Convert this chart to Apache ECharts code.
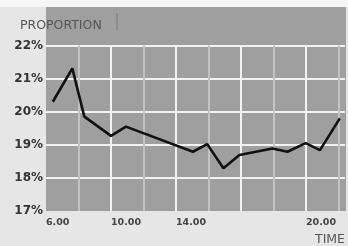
<!DOCTYPE html>
<html><head><meta charset="utf-8">
<script src="https://cdn.jsdelivr.net/npm/echarts@6/dist/echarts.min.js"></script>
<style>html,body{margin:0;padding:0;background:#e6e6e6}#c{width:348px;height:246px}</style>
</head><body><div id="c"></div>
<script>
// x positions in grid units (one unit per vertical grid line)
const xs = [0.21, 0.81, 1.18, 2.0, 2.46, 4.52, 4.96, 5.46, 5.95, 6.97, 7.43, 7.99, 8.43, 9.04];
const proportion = [20.30, 21.31, 19.85, 19.27, 19.55, 18.79, 19.02, 18.29, 18.69, 18.89, 18.79, 19.05, 18.84, 19.80];
const xTickPos = [0, 2, 4, 8];
const xTickText = ['6.00', '10.00', '14.00', '20.00'];
const yTicks = [17, 18, 19, 20, 21, 22];

const chart = echarts.init(document.getElementById('c'), null, {renderer: 'canvas'});
chart.setOption({
  backgroundColor: '#e6e6e6',
  animation: false,
  title: [
    {text: 'PROPORTION', left: 15, top: 14, textStyle: {fontFamily: 'DejaVu Sans', fontSize: 12.5, fontWeight: 'normal', color: '#555'}},
    {text: 'TIME', left: 310, top: 228, textStyle: {fontFamily: 'DejaVu Sans', fontSize: 12.5, fontWeight: 'normal', color: '#555'}}
  ],
  graphic: [
    {type: 'rect', z: -10, shape: {x: 0, y: 0, width: 348, height: 7}, style: {fill: '#f6f6f6'}},
    {type: 'rect', z: -10, shape: {x: 46, y: 7, width: 300, height: 204}, style: {fill: '#9f9f9f'}},
    {type: 'line', z: 10, shape: {x1: 117, y1: 13, x2: 117, y2: 30}, style: {stroke: '#7a7a7a', lineWidth: 1}}
  ],
  grid: {left: 46, right: 2, top: 45.5, bottom: 35, containLabel: false},
  xAxis: {
    type: 'value', min: 0, max: 9.2, interval: 1,
    axisLine: {show: false}, axisTick: {show: false},
    splitLine: {show: true, showMinLine: false, showMaxLine: false,
      lineStyle: {color: ['#c2c2c2', '#f2f2f2'], width: 2}},
    axisLabel: {
      show: true, align: 'left', margin: 7,
      fontFamily: 'DejaVu Sans', fontSize: 9.5, fontWeight: 'bold', color: '#444',
      formatter: v => { const i = xTickPos.indexOf(Math.round(v)); return (i >= 0 && Math.abs(v - Math.round(v)) < 1e-6) ? xTickText[i] : ''; }
    }
  },
  yAxis: {
    type: 'value', min: yTicks[0], max: yTicks[yTicks.length - 1], interval: 1,
    axisLine: {show: false}, axisTick: {show: false},
    splitLine: {show: true, showMinLine: false, lineStyle: {color: '#f2f2f2', width: 2}},
    axisLabel: {margin: 3, fontFamily: 'DejaVu Sans', fontSize: 12, fontWeight: 'bold', color: '#333', formatter: v => v + '%'}
  },
  series: [{
    type: 'line', data: xs.map((x, i) => [x, proportion[i]]),
    symbol: 'none', lineStyle: {color: '#111', width: 2.6}, z: 5
  }]
});
</script></body></html>
